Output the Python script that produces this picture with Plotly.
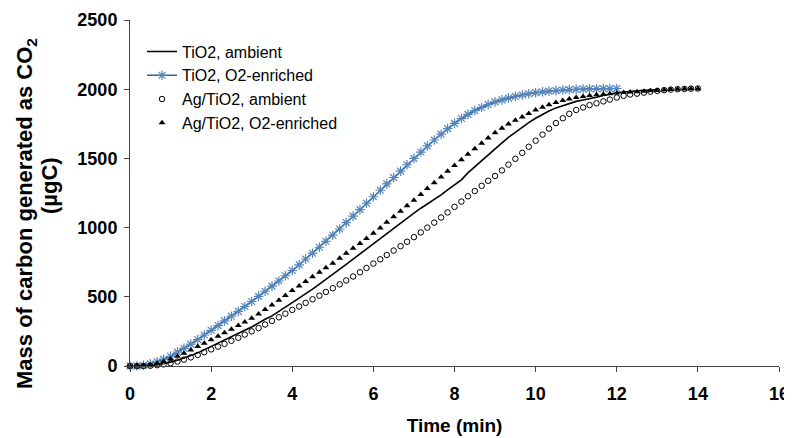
import plotly.graph_objects as go

time_min = [0, 0.17, 0.33, 0.5, 0.67, 0.83, 1, 1.17, 1.33, 1.5, 1.67, 1.83, 2, 2.17, 2.33, 2.5, 2.67, 2.83,
            3, 3.17, 3.33, 3.5, 3.67, 3.83, 4, 4.17, 4.33, 4.5, 4.67, 4.83, 5, 5.17, 5.33, 5.5, 5.67, 5.83,
            6, 6.17, 6.33, 6.5, 6.67, 6.83, 7, 7.17, 7.33, 7.5, 7.67, 7.83, 8, 8.17, 8.33, 8.5, 8.67, 8.83,
            9, 9.17, 9.33, 9.5, 9.67, 9.83, 10, 10.17, 10.33, 10.5, 10.67, 10.83, 11, 11.17, 11.33, 11.5,
            11.67, 11.83, 12, 12.17, 12.33, 12.5, 12.67, 12.83, 13, 13.17, 13.33, 13.5, 13.67, 13.83, 14]

tio2_ambient = [0, 0, 0, 3, 8, 17, 28, 42, 57, 75, 95, 117, 140, 162, 185, 210, 236, 258, 282,
                312, 338, 362, 392, 425, 458, 490, 522, 555, 592, 628, 662, 698, 735, 772, 810, 848, 886,
                922, 958, 992, 1030, 1068, 1105, 1140, 1170, 1202, 1236, 1272, 1306, 1345, 1395, 1440,
                1482, 1528, 1572, 1612, 1652, 1690, 1725, 1758, 1790, 1818, 1843, 1865, 1882, 1898, 1912,
                1922, 1930, 1942, 1955, 1966, 1974, 1980, 1985, 1989, 1992, 1994, 1996]

tio2_o2 = [0, 0, 5, 15, 30, 48, 70, 100, 128, 158, 190, 224, 258, 292, 326, 360, 395, 430, 466,
           503, 540, 577, 614, 652, 690, 731, 773, 815, 858, 901, 945, 990, 1036, 1083, 1130, 1176, 1223,
           1270, 1316, 1362, 1408, 1454, 1500, 1546, 1590, 1633, 1675, 1715, 1753, 1788, 1818, 1845,
           1868, 1890, 1908, 1923, 1936, 1948, 1958, 1967, 1975, 1981, 1986, 1990, 1994, 1997, 1999,
           2001, 2002, 2003, 2004, 2004, 2005]

ag_ambient = [0, 0, 0, 2, 6, 12, 20, 32, 46, 62, 80, 100, 120, 140, 160, 182, 204, 227, 250,
              274, 300, 326, 352, 378, 405, 430, 456, 482, 508, 535, 562, 590, 618, 647, 677, 708, 740,
              771, 802, 834, 866, 898, 931, 965, 1000, 1036, 1073, 1110, 1150, 1188, 1226, 1264, 1302,
              1338, 1373, 1413, 1455, 1497, 1540, 1584, 1628, 1672, 1715, 1755, 1790, 1822, 1850,
              1868, 1885, 1898, 1912, 1925, 1940, 1952, 1962, 1968, 1975, 1982, 1988, 1993, 1997,
              2000, 2002, 2004, 2005]

ag_o2 = [0, 0, 2, 8, 18, 32, 50, 70, 92, 116, 140, 165, 190, 215, 240, 266, 292, 318, 345,
         376, 408, 441, 475, 510, 545, 578, 611, 644, 677, 710, 743, 778, 814, 850, 886, 922, 959,
         998, 1038, 1078, 1118, 1158, 1198, 1240, 1282, 1324, 1366, 1407, 1448, 1490, 1530, 1570,
         1610, 1648, 1686, 1718, 1748, 1775, 1800, 1825, 1850, 1870, 1888, 1904, 1918, 1930, 1940,
         1948, 1954, 1959, 1964, 1968, 1972, 1976, 1979, 1982, 1985, 1988, 1991, 1994, 1997, 1999,
         2001, 2003, 2004]

x_ticks = [0, 2, 4, 6, 8, 10, 12, 14, 16]
y_ticks = [0, 500, 1000, 1500, 2000, 2500]

FONT = "Liberation Sans, Arial, sans-serif"
# the page body adds an 8px offset, so the figure is 8px smaller than the window
W, H = 784, 430
ML, MR, MT, MB = 122, 13, 12, 72
PW = W - ML - MR
PH = H - MT - MB


def px_to_paper_x(px):
    return (px - ML) / PW


def px_to_paper_y(py):
    return (H - MB - py) / PH


fig = go.Figure()
fig.add_trace(go.Scatter(
    x=time_min[:len(tio2_ambient)], y=tio2_ambient, name="TiO2, ambient",
    mode="lines", line=dict(color="black", width=1.6), cliponaxis=False))
fig.add_trace(go.Scatter(
    x=time_min[:len(tio2_o2)], y=tio2_o2, name="TiO2, O2-enriched",
    mode="lines+markers", line=dict(color="#2f6497", width=1.6),
    marker=dict(symbol="asterisk-open", size=8, color="#5585ba",
                line=dict(color="#5585ba", width=1.2)), cliponaxis=False))
fig.add_trace(go.Scatter(
    x=time_min[:len(ag_ambient)], y=ag_ambient, name="Ag/TiO2, ambient",
    mode="markers", marker=dict(symbol="circle-open", size=5.5, color="black",
                                line=dict(color="black", width=1)), cliponaxis=False))
fig.add_trace(go.Scatter(
    x=time_min[:len(ag_o2)], y=ag_o2, name="Ag/TiO2, O2-enriched",
    mode="markers", marker=dict(symbol="triangle-up", size=6, color="black"), cliponaxis=False))

fig.update_layout(
    width=W, height=H,
    margin=dict(l=ML, r=MR, t=MT, b=MB),
    paper_bgcolor="white", plot_bgcolor="white",
    font=dict(family=FONT, color="black"),
    showlegend=True,
    legend=dict(x=0.0185, y=0.958, xanchor="left", yanchor="top",
                bgcolor="rgba(0,0,0,0)", font=dict(size=16, family=FONT),
                tracegroupgap=0, itemwidth=30),
    xaxis=dict(range=[0, 16], tickvals=x_ticks, ticktext=[str(v) for v in x_ticks],
               showgrid=False, zeroline=False, showline=True, linecolor="#444", linewidth=1,
               ticks="outside", ticklen=5, tickcolor="#444", automargin=False,
               ticklabelstandoff=6,
               tickfont=dict(size=18, family=FONT, weight="bold"),
               title=dict(text="<b>Time (min)</b>", font=dict(size=19, family=FONT), standoff=16)),
    yaxis=dict(range=[0, 2500], tickvals=y_ticks, ticktext=[str(v) for v in y_ticks],
               showgrid=False, zeroline=False, showline=True, linecolor="#444", linewidth=1,
               ticks="outside", ticklen=5, tickcolor="#444", automargin=False,
               ticklabelstandoff=3,
               tickfont=dict(size=18, family=FONT, weight="bold")),
    annotations=[
        dict(text="<b>Mass of carbon generated as CO<sub>2</sub></b>", xref="paper", yref="paper",
             x=px_to_paper_x(18), y=px_to_paper_y(206), xanchor="center", yanchor="middle",
             textangle=-90, showarrow=False, font=dict(size=22, family=FONT, color="black")),
        dict(text="<b>(µgC)</b>", xref="paper", yref="paper",
             x=px_to_paper_x(41), y=px_to_paper_y(178), xanchor="center", yanchor="middle",
             textangle=-90, showarrow=False, font=dict(size=22, family=FONT, color="black")),
    ],
)

fig.write_html("out.html")
